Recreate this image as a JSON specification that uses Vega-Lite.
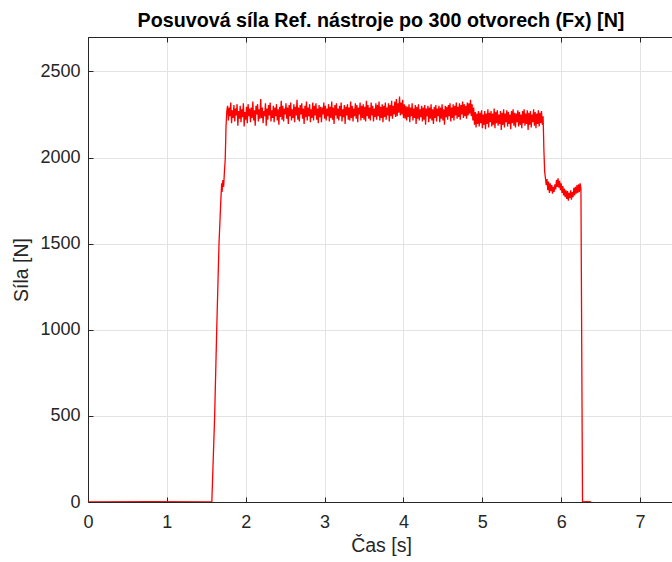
{
  "$schema": "https://vega.github.io/schema/vega-lite/v6.json",
  "width": 586,
  "height": 465,
  "autosize": {"type": "none"},
  "padding": {"left": 88, "top": 37, "right": 0, "bottom": 60},
  "background": "white",
  "config": {
    "view": {"stroke": "#262626", "strokeWidth": 1},
    "font": "Liberation Sans"
  },
  "title": {
    "text": "Posuvová síla Ref. nástroje po 300 otvorech (Fx) [N]",
    "fontSize": 19.7,
    "fontWeight": "bold",
    "font": "Liberation Sans",
    "color": "#000000",
    "anchor": "middle",
    "frame": "group",
    "offset": 6
  },
  "data": {
    "values": [
      {"t":0,"f":0},{"t":0.8,"f":2},{"t":1.57,"f":0},{"t":1.606,"f":500},{"t":1.632,"f":1000},{"t":1.661,"f":1500},{"t":1.685,"f":1760},{"t":1.695,"f":1850},{"t":1.70,"f":1800},{"t":1.71,"f":1870},{"t":1.72,"f":1830},{"t":1.73,"f":1920},{"t":1.74,"f":1990},{"t":1.75,"f":2180},
      {"t":1.76,"f":2270},{"t":1.77,"f":2300},{"t":1.78,"f":2215},{"t":1.79,"f":2290},{"t":1.80,"f":2240},{"t":1.81,"f":2320},{"t":1.82,"f":2200},{"t":1.83,"f":2275},{"t":1.84,"f":2230},{"t":1.85,"f":2305},
      {"t":1.86,"f":2210},{"t":1.87,"f":2285},{"t":1.88,"f":2245},{"t":1.89,"f":2310},{"t":1.90,"f":2185},{"t":1.91,"f":2270},{"t":1.92,"f":2225},{"t":1.93,"f":2300},{"t":1.94,"f":2205},{"t":1.95,"f":2280},
      {"t":1.96,"f":2235},{"t":1.97,"f":2315},{"t":1.98,"f":2180},{"t":1.99,"f":2265},{"t":2.00,"f":2220},{"t":2.01,"f":2295},{"t":2.02,"f":2200},{"t":2.03,"f":2310},{"t":2.04,"f":2240},{"t":2.05,"f":2285},
      {"t":2.06,"f":2205},{"t":2.07,"f":2290},{"t":2.08,"f":2230},{"t":2.09,"f":2325},{"t":2.10,"f":2215},{"t":2.11,"f":2275},{"t":2.12,"f":2185},{"t":2.13,"f":2300},{"t":2.14,"f":2250},{"t":2.15,"f":2310},
      {"t":2.16,"f":2210},{"t":2.17,"f":2280},{"t":2.18,"f":2225},{"t":2.19,"f":2340},{"t":2.20,"f":2230},{"t":2.21,"f":2290},{"t":2.22,"f":2200},{"t":2.23,"f":2270},{"t":2.24,"f":2240},{"t":2.25,"f":2315},
      {"t":2.26,"f":2185},{"t":2.27,"f":2285},{"t":2.28,"f":2220},{"t":2.29,"f":2305},{"t":2.30,"f":2245},{"t":2.31,"f":2320},{"t":2.32,"f":2210},{"t":2.33,"f":2275},{"t":2.34,"f":2230},{"t":2.35,"f":2300},
      {"t":2.36,"f":2205},{"t":2.37,"f":2290},{"t":2.38,"f":2240},{"t":2.39,"f":2310},{"t":2.40,"f":2215},{"t":2.41,"f":2280},{"t":2.42,"f":2190},{"t":2.43,"f":2295},{"t":2.44,"f":2235},{"t":2.45,"f":2330},
      {"t":2.46,"f":2220},{"t":2.47,"f":2300},{"t":2.48,"f":2210},{"t":2.49,"f":2285},{"t":2.50,"f":2250},{"t":2.51,"f":2315},{"t":2.52,"f":2225},{"t":2.53,"f":2290},{"t":2.54,"f":2195},{"t":2.55,"f":2305},
      {"t":2.56,"f":2240},{"t":2.57,"f":2320},{"t":2.58,"f":2215},{"t":2.59,"f":2280},{"t":2.60,"f":2230},{"t":2.61,"f":2310},{"t":2.62,"f":2205},{"t":2.63,"f":2295},{"t":2.64,"f":2245},{"t":2.65,"f":2335},
      {"t":2.66,"f":2220},{"t":2.67,"f":2290},{"t":2.68,"f":2210},{"t":2.69,"f":2305},{"t":2.70,"f":2250},{"t":2.71,"f":2315},{"t":2.72,"f":2225},{"t":2.73,"f":2285},{"t":2.74,"f":2195},{"t":2.75,"f":2300},
      {"t":2.76,"f":2235},{"t":2.77,"f":2325},{"t":2.78,"f":2215},{"t":2.79,"f":2290},{"t":2.80,"f":2240},{"t":2.81,"f":2310},{"t":2.82,"f":2205},{"t":2.83,"f":2280},{"t":2.84,"f":2230},{"t":2.85,"f":2320},
      {"t":2.86,"f":2215},{"t":2.87,"f":2300},{"t":2.88,"f":2245},{"t":2.89,"f":2315},{"t":2.90,"f":2220},{"t":2.91,"f":2285},{"t":2.92,"f":2200},{"t":2.93,"f":2305},{"t":2.94,"f":2235},{"t":2.95,"f":2295},
      {"t":2.96,"f":2205},{"t":2.97,"f":2290},{"t":2.98,"f":2250},{"t":2.99,"f":2320},{"t":3.00,"f":2225},{"t":3.01,"f":2300},{"t":3.02,"f":2215},{"t":3.03,"f":2285},{"t":3.04,"f":2240},{"t":3.05,"f":2310},
      {"t":3.06,"f":2210},{"t":3.07,"f":2295},{"t":3.08,"f":2230},{"t":3.09,"f":2325},{"t":3.10,"f":2220},{"t":3.11,"f":2290},{"t":3.12,"f":2195},{"t":3.13,"f":2305},{"t":3.14,"f":2245},{"t":3.15,"f":2315},
      {"t":3.16,"f":2225},{"t":3.17,"f":2285},{"t":3.18,"f":2215},{"t":3.19,"f":2300},{"t":3.20,"f":2240},{"t":3.21,"f":2320},{"t":3.22,"f":2210},{"t":3.23,"f":2280},{"t":3.24,"f":2235},{"t":3.25,"f":2305},
      {"t":3.26,"f":2195},{"t":3.27,"f":2295},{"t":3.28,"f":2245},{"t":3.29,"f":2310},{"t":3.30,"f":2220},{"t":3.31,"f":2290},{"t":3.32,"f":2215},{"t":3.33,"f":2325},{"t":3.34,"f":2230},{"t":3.35,"f":2300},
      {"t":3.36,"f":2210},{"t":3.37,"f":2285},{"t":3.38,"f":2240},{"t":3.39,"f":2315},{"t":3.40,"f":2225},{"t":3.41,"f":2305},{"t":3.42,"f":2205},{"t":3.43,"f":2290},{"t":3.44,"f":2250},{"t":3.45,"f":2320},
      {"t":3.46,"f":2215},{"t":3.47,"f":2300},{"t":3.48,"f":2230},{"t":3.49,"f":2310},{"t":3.50,"f":2220},{"t":3.51,"f":2295},{"t":3.52,"f":2210},{"t":3.53,"f":2330},{"t":3.54,"f":2240},{"t":3.55,"f":2305},
      {"t":3.56,"f":2225},{"t":3.57,"f":2290},{"t":3.58,"f":2215},{"t":3.59,"f":2320},{"t":3.60,"f":2245},{"t":3.61,"f":2300},{"t":3.62,"f":2210},{"t":3.63,"f":2285},{"t":3.64,"f":2235},{"t":3.65,"f":2315},
      {"t":3.66,"f":2220},{"t":3.67,"f":2305},{"t":3.68,"f":2240},{"t":3.69,"f":2325},{"t":3.70,"f":2215},{"t":3.71,"f":2295},{"t":3.72,"f":2230},{"t":3.73,"f":2310},{"t":3.74,"f":2205},{"t":3.75,"f":2300},
      {"t":3.76,"f":2235},{"t":3.77,"f":2320},{"t":3.78,"f":2220},{"t":3.79,"f":2290},{"t":3.80,"f":2245},{"t":3.81,"f":2315},{"t":3.82,"f":2210},{"t":3.83,"f":2305},{"t":3.84,"f":2240},{"t":3.85,"f":2330},
      {"t":3.86,"f":2225},{"t":3.87,"f":2300},{"t":3.88,"f":2250},{"t":3.89,"f":2325},{"t":3.90,"f":2235},{"t":3.91,"f":2340},{"t":3.92,"f":2240},{"t":3.93,"f":2315},{"t":3.94,"f":2260},{"t":3.95,"f":2355},
      {"t":3.96,"f":2245},{"t":3.97,"f":2320},{"t":3.98,"f":2250},{"t":3.99,"f":2335},{"t":4.00,"f":2230},{"t":4.01,"f":2310},{"t":4.02,"f":2225},{"t":4.03,"f":2300},{"t":4.04,"f":2215},{"t":4.05,"f":2295},
      {"t":4.06,"f":2235},{"t":4.07,"f":2310},{"t":4.08,"f":2205},{"t":4.09,"f":2290},{"t":4.10,"f":2240},{"t":4.11,"f":2315},{"t":4.12,"f":2215},{"t":4.13,"f":2285},{"t":4.14,"f":2230},{"t":4.15,"f":2305},
      {"t":4.16,"f":2195},{"t":4.17,"f":2295},{"t":4.18,"f":2225},{"t":4.19,"f":2310},{"t":4.20,"f":2215},{"t":4.21,"f":2280},{"t":4.22,"f":2235},{"t":4.23,"f":2300},{"t":4.24,"f":2210},{"t":4.25,"f":2290},
      {"t":4.26,"f":2220},{"t":4.27,"f":2305},{"t":4.28,"f":2190},{"t":4.29,"f":2285},{"t":4.30,"f":2240},{"t":4.31,"f":2300},{"t":4.32,"f":2205},{"t":4.33,"f":2290},{"t":4.34,"f":2225},{"t":4.35,"f":2310},
      {"t":4.36,"f":2215},{"t":4.37,"f":2280},{"t":4.38,"f":2195},{"t":4.39,"f":2295},{"t":4.40,"f":2230},{"t":4.41,"f":2305},{"t":4.42,"f":2210},{"t":4.43,"f":2285},{"t":4.44,"f":2240},{"t":4.45,"f":2300},
      {"t":4.46,"f":2205},{"t":4.47,"f":2290},{"t":4.48,"f":2225},{"t":4.49,"f":2310},{"t":4.50,"f":2215},{"t":4.51,"f":2280},{"t":4.52,"f":2190},{"t":4.53,"f":2300},{"t":4.54,"f":2235},{"t":4.55,"f":2295},
      {"t":4.56,"f":2220},{"t":4.57,"f":2305},{"t":4.58,"f":2240},{"t":4.59,"f":2315},{"t":4.60,"f":2210},{"t":4.61,"f":2290},{"t":4.62,"f":2230},{"t":4.63,"f":2310},{"t":4.64,"f":2215},{"t":4.65,"f":2300},
      {"t":4.66,"f":2245},{"t":4.67,"f":2320},{"t":4.68,"f":2225},{"t":4.69,"f":2295},{"t":4.70,"f":2235},{"t":4.71,"f":2315},{"t":4.72,"f":2220},{"t":4.73,"f":2305},{"t":4.74,"f":2250},{"t":4.75,"f":2325},
      {"t":4.76,"f":2230},{"t":4.77,"f":2310},{"t":4.78,"f":2240},{"t":4.79,"f":2300},{"t":4.80,"f":2225},{"t":4.81,"f":2320},{"t":4.82,"f":2245},{"t":4.83,"f":2315},{"t":4.84,"f":2255},{"t":4.85,"f":2335},
      {"t":4.86,"f":2240},{"t":4.87,"f":2310},{"t":4.88,"f":2215},{"t":4.89,"f":2290},{"t":4.90,"f":2190},{"t":4.91,"f":2265},{"t":4.92,"f":2175},{"t":4.93,"f":2255},{"t":4.94,"f":2195},{"t":4.95,"f":2270},
      {"t":4.96,"f":2180},{"t":4.97,"f":2260},{"t":4.98,"f":2200},{"t":4.99,"f":2275},{"t":5.00,"f":2170},{"t":5.01,"f":2250},{"t":5.02,"f":2190},{"t":5.03,"f":2270},{"t":5.04,"f":2165},{"t":5.05,"f":2255},
      {"t":5.06,"f":2195},{"t":5.07,"f":2280},{"t":5.08,"f":2175},{"t":5.09,"f":2260},{"t":5.10,"f":2205},{"t":5.11,"f":2270},{"t":5.12,"f":2180},{"t":5.13,"f":2255},{"t":5.14,"f":2190},{"t":5.15,"f":2285},
      {"t":5.16,"f":2170},{"t":5.17,"f":2265},{"t":5.18,"f":2200},{"t":5.19,"f":2275},{"t":5.20,"f":2185},{"t":5.21,"f":2250},{"t":5.22,"f":2195},{"t":5.23,"f":2270},{"t":5.24,"f":2160},{"t":5.25,"f":2260},
      {"t":5.26,"f":2190},{"t":5.27,"f":2280},{"t":5.28,"f":2175},{"t":5.29,"f":2255},{"t":5.30,"f":2205},{"t":5.31,"f":2275},{"t":5.32,"f":2180},{"t":5.33,"f":2265},{"t":5.34,"f":2195},{"t":5.35,"f":2250},
      {"t":5.36,"f":2165},{"t":5.37,"f":2270},{"t":5.38,"f":2200},{"t":5.39,"f":2280},{"t":5.40,"f":2185},{"t":5.41,"f":2260},{"t":5.42,"f":2175},{"t":5.43,"f":2255},{"t":5.44,"f":2205},{"t":5.45,"f":2275},
      {"t":5.46,"f":2180},{"t":5.47,"f":2265},{"t":5.48,"f":2190},{"t":5.49,"f":2250},{"t":5.50,"f":2170},{"t":5.51,"f":2270},{"t":5.52,"f":2200},{"t":5.53,"f":2280},{"t":5.54,"f":2185},{"t":5.55,"f":2255},
      {"t":5.56,"f":2195},{"t":5.57,"f":2275},{"t":5.58,"f":2160},{"t":5.59,"f":2260},{"t":5.60,"f":2190},{"t":5.61,"f":2270},{"t":5.62,"f":2175},{"t":5.63,"f":2250},{"t":5.64,"f":2205},{"t":5.65,"f":2280},
      {"t":5.66,"f":2185},{"t":5.67,"f":2265},{"t":5.68,"f":2170},{"t":5.69,"f":2255},{"t":5.70,"f":2195},{"t":5.71,"f":2275},{"t":5.72,"f":2180},{"t":5.73,"f":2260},{"t":5.74,"f":2200},{"t":5.75,"f":2270},
      {"t":5.76,"f":2190},{"t":5.77,"f":2240},{"t":5.775,"f":2150},{"t":5.78,"f":2050},{"t":5.79,"f":1920},{"t":5.80,"f":1880},
      {"t":5.81,"f":1840},{"t":5.82,"f":1875},{"t":5.83,"f":1810},{"t":5.84,"f":1860},{"t":5.85,"f":1795},{"t":5.86,"f":1850},{"t":5.87,"f":1805},{"t":5.88,"f":1840},{"t":5.89,"f":1790},{"t":5.90,"f":1830},
      {"t":5.91,"f":1800},{"t":5.92,"f":1845},{"t":5.93,"f":1815},{"t":5.94,"f":1870},{"t":5.95,"f":1830},{"t":5.96,"f":1880},{"t":5.97,"f":1825},{"t":5.98,"f":1865},{"t":5.99,"f":1810},{"t":6.00,"f":1850},
      {"t":6.01,"f":1795},{"t":6.02,"f":1835},{"t":6.03,"f":1780},{"t":6.04,"f":1820},{"t":6.05,"f":1770},{"t":6.06,"f":1810},{"t":6.07,"f":1760},{"t":6.08,"f":1805},{"t":6.09,"f":1750},{"t":6.10,"f":1795},
      {"t":6.11,"f":1765},{"t":6.12,"f":1810},{"t":6.13,"f":1755},{"t":6.14,"f":1800},{"t":6.15,"f":1770},{"t":6.16,"f":1825},{"t":6.17,"f":1780},{"t":6.18,"f":1830},{"t":6.19,"f":1790},{"t":6.20,"f":1840},
      {"t":6.21,"f":1795},{"t":6.22,"f":1845},{"t":6.23,"f":1800},{"t":6.24,"f":1850},{"t":6.25,"f":1820},{"t":6.27,"f":0},{"t":6.32,"f":2},{"t":6.38,"f":0}
    ]
  },
  "layer": [
    {
      "mark": {"type": "line", "color": "#ff0000", "strokeWidth": 1.3, "clip": true},
      "encoding": {
        "x": {
          "field": "t", "type": "quantitative",
          "scale": {"domain": [0, 7.43], "nice": false, "zero": false},
          "axis": {
            "title": "Čas [s]",
            "values": [0, 1, 2, 3, 4, 5, 6, 7],
            "format": "d",
            "grid": true, "gridColor": "#e3e3e3",
            "domain": true, "domainColor": "#262626",
            "ticks": true, "tickColor": "#262626", "tickSize": -5,
            "labelFlush": false,
            "labelFontSize": 18, "labelColor": "#262626", "labelPadding": 16,
            "titleFontSize": 19.5, "titleFontWeight": "normal", "titleColor": "#262626", "titlePadding": 5
          }
        },
        "y": {
          "field": "f", "type": "quantitative",
          "scale": {"domain": [0, 2700], "nice": false},
          "axis": {
            "title": "Síla [N]",
            "values": [0, 500, 1000, 1500, 2000, 2500],
            "format": "d",
            "grid": true, "gridColor": "#e3e3e3",
            "domain": true, "domainColor": "#262626",
            "ticks": true, "tickColor": "#262626", "tickSize": -5,
            "labelFlush": false,
            "labelFontSize": 18, "labelColor": "#262626", "labelPadding": 13,
            "titleFontSize": 19.5, "titleFontWeight": "normal", "titleColor": "#262626", "titlePadding": 8
          }
        }
      }
    },
    {
      "mark": {"type": "point", "opacity": 0},
      "encoding": {
        "x": {
          "field": "t", "type": "quantitative",
          "axis": {
            "orient": "top", "title": null, "labels": false,
            "values": [0, 1, 2, 3, 4, 5, 6, 7],
            "grid": false, "domain": true, "domainColor": "#262626",
            "ticks": true, "tickColor": "#262626", "tickSize": -5
          }
        }
      }
    }
  ],
  "resolve": {"axis": {"x": "independent"}}
}
